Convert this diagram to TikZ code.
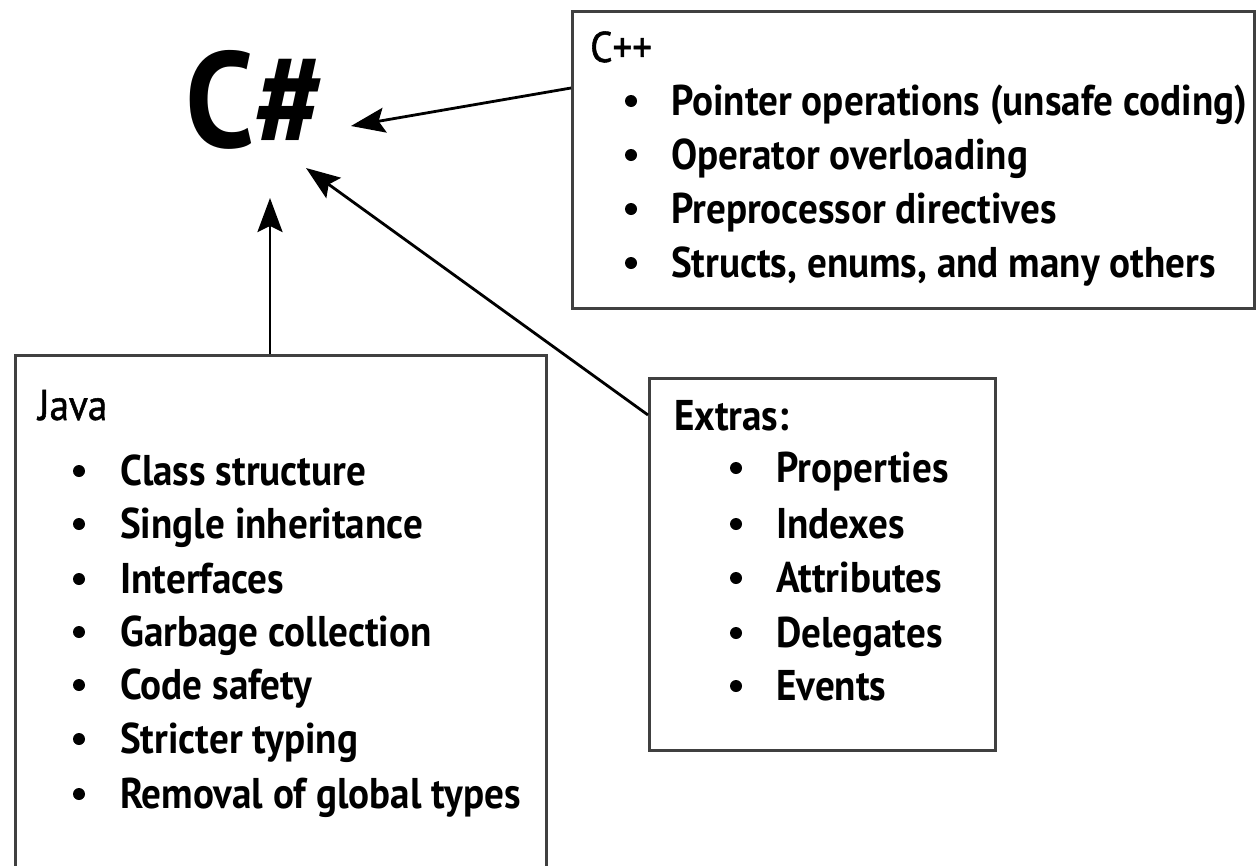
\documentclass[tikz,border=0pt]{standalone}
\usepackage{fontspec}
\setmainfont{PT Sans}[FakeStretch=0.91]
\newfontfamily\headfont{PT Sans}[FakeStretch=0.91,FakeBold=1.2]
\usetikzlibrary{arrows.meta}
\begin{document}
\begin{tikzpicture}[x=1pt,y=1pt,
  boxstyle/.style={draw=black!75,line width=2.6pt,inner sep=0pt},
  head/.style={anchor=base west,inner sep=0pt,font=\fontsize{43}{50}\headfont},
  item/.style={anchor=base west,inner sep=0pt,font=\fontsize{43}{50}\selectfont\bfseries},
  dot/.style={circle,fill=black,draw=none,inner sep=0pt,minimum size=12pt},
  conn/.style={line width=2.8pt,-{Stealth[length=34pt,width=25pt,inset=6pt]}}]
\useasboundingbox (0,0) rectangle (1258,-865);
\clip (0,0) rectangle (1258,-865);
% C#
\node[anchor=base,inner sep=0pt,font=\fontsize{136}{150}\selectfont\bfseries] (cs) at (255,-147) {C\#};
% boxes
\node[boxstyle,anchor=north west,minimum width=682pt,minimum height=297pt] (cpp) at (571,-10) {};
\node[boxstyle,anchor=north west,minimum width=531pt,minimum height=520pt] (java) at (14,-354) {};
\node[boxstyle,anchor=north west,minimum width=346pt,minimum height=372pt] (extra) at (648,-377) {};
% C++ text
\node[head] (cpph) at (590,-62) {C++};
\foreach \i/\t/\y in {1/{Pointer operations (unsafe coding)}/115,2/{Operator overloading}/169,3/{Preprocessor directives}/223,4/{Structs, enums, and many others}/277}{
  \node[item] (cppi\i) at (671,-\y) {\t};
  \node[dot] (cppd\i) at (631,-\y+14) {};
}
% Java text
\node[head] (javah) at (38,-420) {Java};
\foreach \i/\t/\y in {1/{Class structure}/485,2/{Single inheritance}/538,3/{Interfaces}/593,4/{Garbage collection}/646,5/{Code safety}/699,6/{Stricter typing}/753,7/{Removal of global types}/808}{
  \node[item] (javai\i) at (120,-\y) {\t};
  \node[dot] (javad\i) at (79,-\y+14) {};
}
% Extras text
\node[item] (extrah) at (674,-430) {Extras:};
\foreach \i/\t/\y in {1/{Properties}/482,2/{Indexes}/538,3/{Attributes}/592,4/{Delegates}/647,5/{Events}/700}{
  \node[item] (extrai\i) at (776,-\y) {\t};
  \node[dot] (extrad\i) at (736,-\y+14) {};
}
% connector ends
\coordinate (cppout) at (571,-88);
\coordinate (tipcpp) at (351,-126);
\coordinate (javaout) at (270,-354);
\coordinate (tipjava) at (270,-198);
\coordinate (extraout) at (648,-415);
\coordinate (tipextra) at (306,-168);
\draw[conn] (cppout) -- (tipcpp);
\draw[conn] (javaout) -- (tipjava);
\draw[conn] (extraout) -- (tipextra);
\end{tikzpicture}
\end{document}
